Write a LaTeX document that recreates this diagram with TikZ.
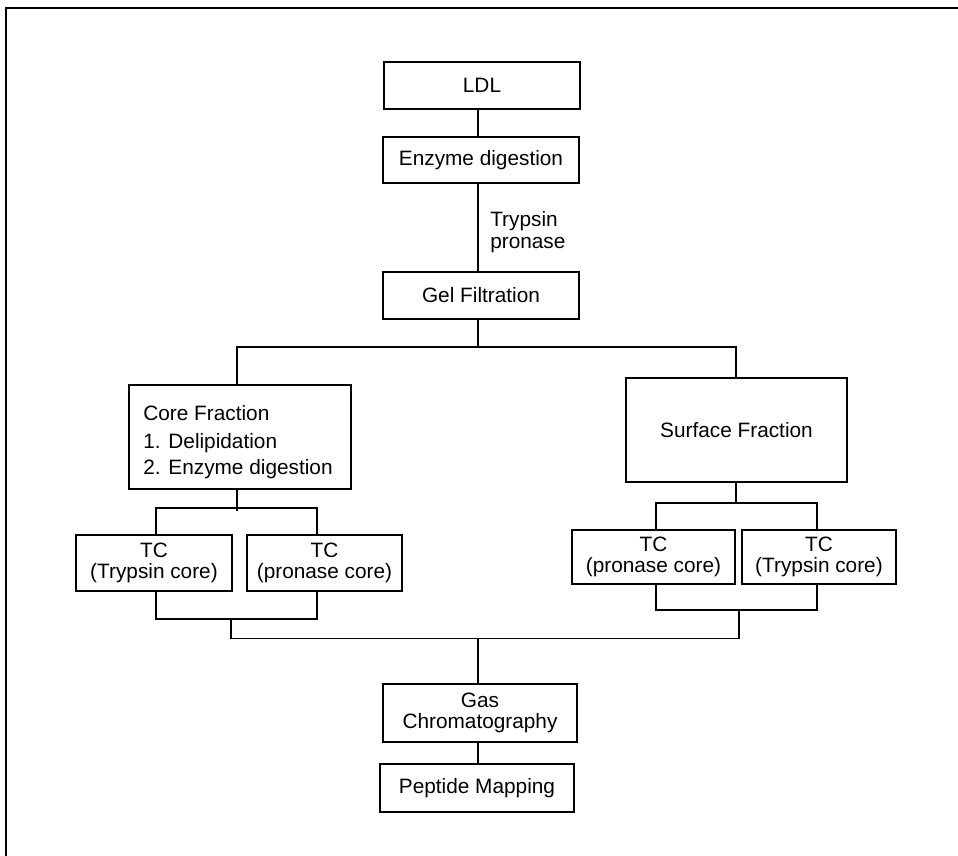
\documentclass[tikz,border=0pt]{standalone}
\usepackage{fontspec}
\setmainfont{Liberation Sans}
\begin{document}
\begin{tikzpicture}[x=0.75pt,y=-0.75pt,
  box/.style={draw, line width=1.1pt, inner sep=0pt, align=center},
  wh/.style 2 args={minimum width=#1*0.75pt, minimum height=#2*0.75pt},
  conn/.style={line width=1.1pt},
  every node/.style={font=\fontsize{15.6}{16}\selectfont}]
\useasboundingbox (0,0) rectangle (958,856);
% frame
\draw[line width=1.5pt] (6,856) -- (6,8) -- (958,8);

% top chain
\node[box, wh={196}{47}] (ldl) at (482,85.5) {LDL};
\node[box, wh={196}{46}] (enz) at (481,160) {Enzyme digestion};
\node[box, wh={196}{47}] (gel) at (481,295.5) {Gel Filtration};
\node[align=left, anchor=west, inner sep=0pt] (tp) at (490,232) {Trypsin\\pronase};

\coordinate (t1) at (478,0);
\draw[conn] (ldl.south -| t1) -- (enz.north -| t1);
\draw[conn] (enz.south -| t1) -- (gel.north -| t1);

% fractions
\node[box, wh={222}{104}] (core) at (240,437) {};
\node[align=left, inner sep=0pt] (coretxt) at (238,442)
  {Core Fraction\\[5pt]1. Delipidation\\[3pt]2. Enzyme digestion};
\node[box, wh={221}{104}] (surf) at (736.5,430) {Surface Fraction};

\coordinate (sp) at (478,347);
\coordinate (cl) at (237,347);
\coordinate (sr) at (736,347);
\draw[conn] (gel.south -| sp) -- (sp);
\draw[conn] (core.north -| cl) -- (cl) -- (sr) -- (surf.north -| sr);

% left TC boxes
\node[box, wh={156}{56}] (tc1) at (154,563) {TC\\(Trypsin core)};
\node[box, wh={155}{56}] (tc2) at (324.5,563) {TC\\(pronase core)};
\coordinate (lj) at (237,508);
\coordinate (la) at (156,508);
\coordinate (lb) at (317,508);
\draw[conn] (core.south -| lj) -- (237,511);
\draw[conn] (la |- tc1.north) -- (la) -- (lb) -- (lb |- tc2.north);
\coordinate (lc) at (156,619);
\coordinate (ld) at (317,619);
\coordinate (le) at (231,619);
\draw[conn] (lc |- tc1.south) -- (lc) -- (ld) -- (ld |- tc2.south);

% right TC boxes
\node[box, wh={163}{54}] (tc3) at (653.5,557) {TC\\(pronase core)};
\node[box, wh={154}{54}] (tc4) at (819,557) {TC\\(Trypsin core)};
\coordinate (rj) at (736,503);
\coordinate (ra) at (656,503);
\coordinate (rb) at (817,503);
\draw[conn] (surf.south -| rj) -- (rj);
\draw[conn] (ra |- tc3.north) -- (ra) -- (rb) -- (rb |- tc4.north);
\coordinate (rc) at (656,610);
\coordinate (rd) at (817,610);
\coordinate (re) at (739,610);
\draw[conn] (rc |- tc3.south) -- (rc) -- (rd) -- (rd |- tc4.south);

% merge
\coordinate (ml) at (231,638.5);
\coordinate (mm) at (478,638.5);
\coordinate (mr) at (739,638.5);
\draw[conn] (le) -- (ml) -- (mr) -- (re);

% bottom chain
\node[box, wh={194}{58}] (gas) at (480,713) {Gas\\Chromatography};
\node[box, wh={194}{48}] (pep) at (477,788) {Peptide Mapping};
\draw[conn] (mm) -- (gas.north -| mm);
\draw[conn] (gas.south -| mm) -- (pep.north -| mm);
\end{tikzpicture}
\end{document}
